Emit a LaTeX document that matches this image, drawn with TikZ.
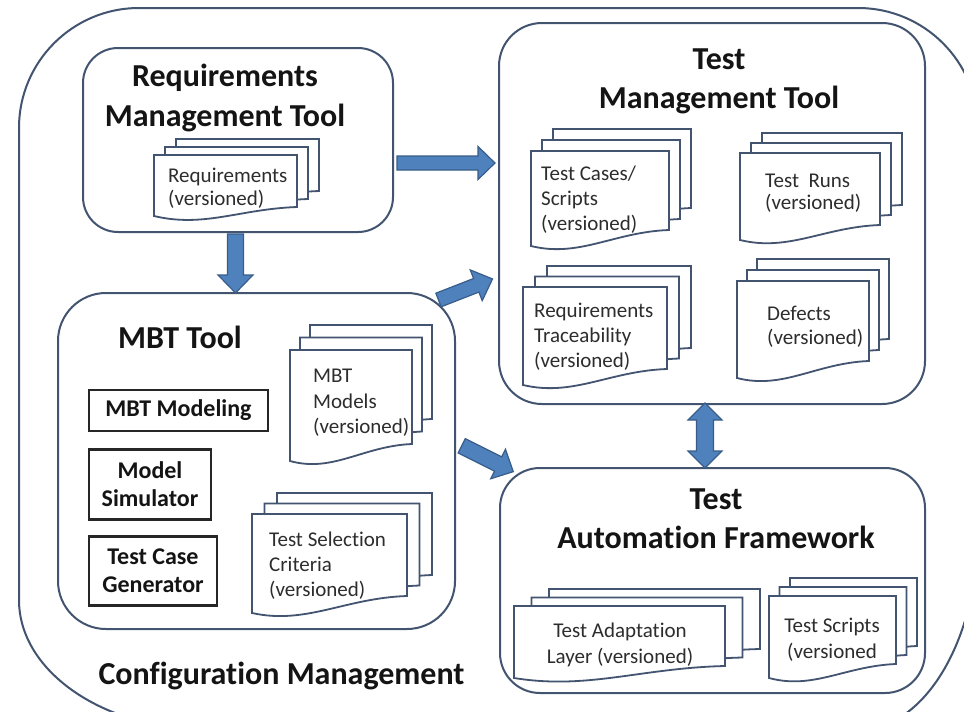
\documentclass[tikz,border=0pt]{standalone}
\usepackage{fontspec}
\setmainfont{Carlito}[Ligatures=NoCommon]
\definecolor{frame}{RGB}{66,84,112}
\definecolor{afill}{RGB}{79,129,189}
\definecolor{aline}{RGB}{56,93,138}
\definecolor{txt}{RGB}{20,20,20}
\definecolor{dtxt}{RGB}{45,45,45}
\tikzset{
  frameline/.style={draw=frame, line width=2pt},
  toolbox/.style={draw=frame, line width=2pt, rounded corners=#1, inner sep=0pt},
  subbox/.style={draw=black!85, line width=2.4pt, inner sep=0pt, align=center,
    font=\fontsize{24}{28}\selectfont\bfseries, text=txt},
  docline/.style={draw=frame, line width=1.8pt, fill=white, line join=miter},
  doctext/.style={inner sep=0pt, text=dtxt},
  titletext/.style={inner sep=0pt, text=txt, align=center},
  barrow/.style={fill=afill, draw=aline, line width=1.2pt, line join=miter}
}
% x0 y0 x1 ybottomleft ybottomright dx dy(up)
\newcommand{\docstack}[7]{%
  \foreach \k in {2,1,0}{%
    \pgfmathsetmacro{\ax}{#1+\k*#6}%
    \pgfmathsetmacro{\ay}{#2-\k*#7}%
    \pgfmathsetmacro{\bx}{#3+\k*#6}%
    \pgfmathsetmacro{\byl}{#4-\k*#7}%
    \pgfmathsetmacro{\byr}{#5-\k*#7}%
    \pgfmathsetmacro{\cax}{\bx-0.4*(\bx-\ax)}%
    \pgfmathsetmacro{\cbx}{\ax+0.35*(\bx-\ax)}%
    \pgfmathsetmacro{\cay}{\byr+2}%
    \pgfmathsetmacro{\cby}{\byl+12}%
    \filldraw[docline] (\ax,\ay) -- (\bx,\ay) -- (\bx,\byr) .. controls (\cax,\cay) and (\cbx,\cby) .. (\ax,\byl) -- cycle;
  }}
% start coordinate, angle, length, shaft half width, head half width, head length
\newcommand{\blockarrow}[6]{%
  \begin{scope}[shift={(#1)}, rotate=#2]
    \filldraw[barrow] (0,-#4) -- ({#3-#6},-#4) -- ({#3-#6},-#5) -- (#3,0) -- ({#3-#6},#5) -- ({#3-#6},#4) -- (0,#4) -- cycle;
  \end{scope}}
\begin{document}
\begin{tikzpicture}[x=1pt,y=-1pt]
\useasboundingbox (0,0) rectangle (964,712);
\clip (0,0) rectangle (964,712);
\fill[white] (0,0) rectangle (964,712);

% outer configuration management frame
\draw[frameline] (139,8) -- (858,8) .. controls (924.3,8) and (978,61.7) .. (978,128)
  -- (978,530) .. controls (978,640.5) and (924.3,730) .. (858,730)
  -- (209,730) .. controls (104.1,730) and (19,671.8) .. (19,600)
  -- (19,128) .. controls (19,61.7) and (72.7,8) .. (139,8) -- cycle;
\node[titletext, anchor=base, font=\fontsize{32}{40}\selectfont\bfseries] (cm) at (281.5,684) {Configuration Management};

% tool boxes
\node[toolbox=35pt, minimum width=310pt, minimum height=184pt] (rmt) at (238,140) {};
\node[toolbox=43pt, minimum width=426pt, minimum height=381pt] (tmt) at (712,213.5) {};
\node[toolbox=48pt, minimum width=397pt, minimum height=336pt] (mbt) at (256.5,461) {};
\node[toolbox=40pt, minimum width=425pt, minimum height=225pt] (taf) at (712.5,580.5) {};

% titles
\node[titletext, font=\fontsize{32}{40}\selectfont\bfseries] (rmtt) at (225,98) {Requirements\\Management Tool};
\node[titletext, font=\fontsize{32}{39}\selectfont\bfseries] (tmtt) at (719,81.5) {Test\\Management Tool};
\node[titletext, anchor=base, font=\fontsize{32}{40}\selectfont\bfseries] (mbtt) at (180,348) {MBT Tool};
\node[titletext, font=\fontsize{32}{39}\selectfont\bfseries] (taft) at (716,519) {Test\\Automation Framework};

% MBT sub boxes
\node[subbox, minimum width=179pt, minimum height=41pt] (mod) at (178.5,410.5) {MBT Modeling};
\node[subbox, minimum width=122pt, minimum height=70pt] (sim) at (150,484.5) {Model\\Simulator};
\node[subbox, minimum width=128pt, minimum height=69pt] (gen) at (153,571) {Test Case\\Generator};

% document stacks
\docstack{154}{155}{297}{216}{207}{11}{8}
\node[doctext, anchor=west, align=left, font=\fontsize{21}{23}\selectfont] (dreq) at (168,188.5) {Requirements\\(versioned)};

\docstack{531}{151}{669}{246}{230}{11}{11}
\node[doctext, anchor=west, align=left, font=\fontsize{21}{25}\selectfont] (dtc) at (541,200) {Test Cases/\\Scripts\\(versioned)};

\docstack{740}{153}{880}{240}{225}{11}{10}
\node[doctext, anchor=west, align=left, font=\fontsize{21}{22}\selectfont] (dtr) at (765,193) {Test\ \ Runs\\(versioned)};

\docstack{523}{287}{667}{385}{369}{12}{10.5}
\node[doctext, anchor=west, align=left, font=\fontsize{21}{25}\selectfont] (dtrace) at (534,337) {Requirements\\Traceability\\(versioned)};

\docstack{737}{281}{869}{378}{361}{10}{11}
\node[doctext, anchor=west, align=left, font=\fontsize{21}{24}\selectfont] (ddef) at (767,327) {Defects\\(versioned)};

\docstack{290}{350}{412}{461}{444}{10}{12.5}
\node[doctext, anchor=west, align=left, font=\fontsize{21}{25.5}\selectfont] (dmod) at (313,403) {MBT\\Models\\(versioned)};

\docstack{252}{514}{407}{613}{596}{12.5}{10.5}
\node[doctext, anchor=west, align=left, font=\fontsize{21}{25}\selectfont] (dsel) at (269,566) {Test Selection\\Criteria\\(versioned)};

\docstack{514}{606}{725}{678}{666}{17.5}{8.5}
\node[doctext, align=center, font=\fontsize{21}{26}\selectfont] (dadapt) at (620,645) {Test Adaptation\\Layer (versioned)};

\docstack{769}{596}{896}{678}{664}{10.5}{9}
\node[doctext, align=center, font=\fontsize{21}{26}\selectfont] (dscr) at (832,640) {Test Scripts\\(versioned};

% block arrows
\coordinate (a1) at (397,163);
\coordinate (a2) at (235.5,234);
\coordinate (a3) at (438.5,300);
\coordinate (a4) at (461.7,445.8);
\coordinate (a5) at (705,403);
\blockarrow{a1}{0}{98}{7}{16.5}{17}
\blockarrow{a2}{-90}{59}{8}{17.5}{18}
\blockarrow{a3}{21.3}{58}{7.3}{16.5}{17.5}
\blockarrow{a4}{-26.6}{57.7}{8}{16.5}{17}
\begin{scope}[shift={(a5)}, rotate=-90]
  \filldraw[barrow] (0,0) -- (17,-17) -- (17,-8.5) -- (48,-8.5) -- (48,-17) -- (65,0)
    -- (48,17) -- (48,8.5) -- (17,8.5) -- (17,17) -- cycle;
\end{scope}
\end{tikzpicture}
\end{document}
